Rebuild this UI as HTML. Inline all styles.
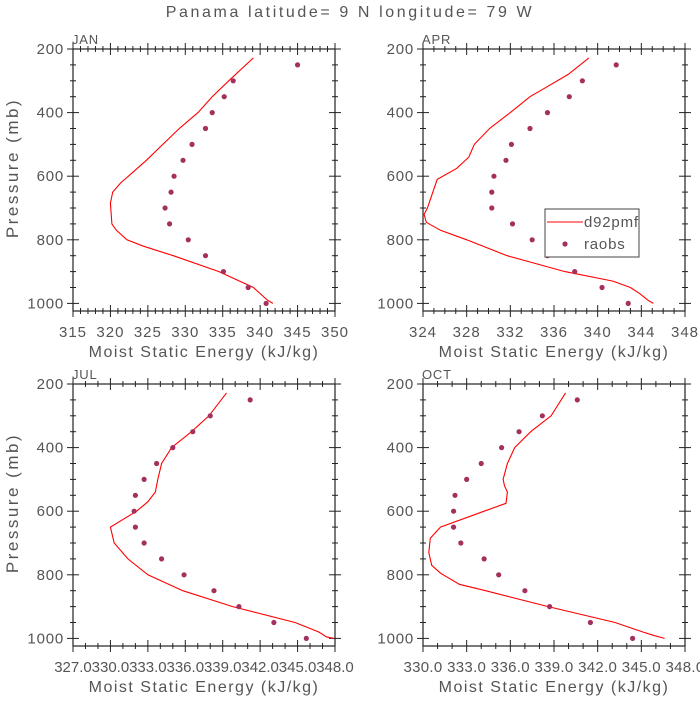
<!DOCTYPE html>
<html><head><meta charset="utf-8"><style>
html,body{margin:0;padding:0;background:#fff;}
svg text{font-family:"Liberation Sans",sans-serif;fill:#555;}
</style></head><body>
<svg id="fig" width="700" height="700" viewBox="0 0 700 700" xmlns="http://www.w3.org/2000/svg">
<text x="350" y="17" text-anchor="middle" font-size="16" letter-spacing="2.6">Panama  latitude= 9 N longitude= 79 W</text>
</svg>
<script>
const pressureLevels=[250,300,350,400,450,500,550,600,650,700,750,800,850,900,950,1000];
const janLineP=[228,300,350,400,450,500,550,600,620,650,685,750,770,800,820,850,900,950,980,990,1000];
const janLineV=[339.1,335.8,333.6,331.7,329.2,327.0,324.8,322.4,321.4,320.3,320.0,320.2,320.8,322.2,324.4,328.4,334.5,339.1,340.5,341.0,341.7];
const janDots=[345.0,336.4,335.2,333.6,332.7,330.9,329.7,328.5,328.1,327.3,327.9,330.4,332.7,335.1,338.4,340.8];
const aprLineP=[228,280,320,350,400,450,500,540,575,610,700,720,745,770,800,850,900,930,950,970,990,1000];
const aprLineV=[339.2,337.3,335.3,333.8,332.0,330.1,328.7,328.2,327.1,325.3,324.4,324.1,324.3,325.6,328.0,331.7,337.0,341.4,343.0,343.9,344.6,345.1];
const aprDots=[341.7,338.6,337.4,335.4,333.8,332.1,331.6,330.5,330.3,330.3,332.2,334.0,335.4,337.9,340.4,342.8];
const julLineP=[228,300,350,400,450,500,540,570,600,650,700,750,800,850,900,950,980,995,1000];
const julLineV=[339.3,337.9,336.5,334.9,334.1,333.8,333.6,333.0,332.1,330.0,330.3,331.4,333.0,335.8,339.8,344.8,346.7,347.3,347.9];
const julDots=[341.2,338.0,336.6,335.0,333.7,332.7,332.0,331.9,332.0,332.7,334.1,335.9,338.3,340.3,343.1,345.7];
const octLineP=[228,300,350,400,450,500,520,540,575,600,650,685,730,770,795,830,850,900,950,980,990,1000];
const octLineV=[339.8,338.8,337.4,336.3,335.8,335.5,335.6,335.8,335.7,334.2,331.2,330.5,330.4,330.6,331.2,332.5,334.3,338.6,343.2,345.1,345.8,346.6];
const octDots=[340.6,338.2,336.6,335.4,334.0,333.0,332.2,332.1,332.1,332.6,334.2,335.2,337.0,338.7,341.5,344.4];
const yTicks=[200,400,600,800,1000];

const NS="http://www.w3.org/2000/svg";
const svg=document.getElementById('fig');
function mk(tag,attrs,parent){const e=document.createElementNS(NS,tag);for(const k in attrs)e.setAttribute(k,attrs[k]);(parent||svg).appendChild(e);return e;}

function panel(cfg){
  const g=mk('g',{});
  
  
  const L=73,R=335,ox=cfg.ox,oy=cfg.oy;
  const x=v=>ox+L+(v-cfg.xmin)/(cfg.xmax-cfg.xmin)*(R-L);
  const y=p=>oy+49+(p-200)*0.318;
  const top=y(200),bot=oy+311;
  const frame=mk('rect',{x:ox+L,y:top,width:R-L,height:bot-top,fill:'none',stroke:'#222','stroke-width':1.2},g);
  
  
  for(let v=cfg.xmin;v<=cfg.xmax+1e-6;v+=cfg.minor){
    const major=Math.abs(((v-cfg.xmin)/cfg.major)-Math.round((v-cfg.xmin)/cfg.major))<1e-6;
    const len=major?6:3;
    mk('line',{x1:x(v),x2:x(v),y1:bot-len,y2:bot+len,stroke:'#222'},g);
    mk('line',{x1:x(v),x2:x(v),y1:top-len,y2:top+len,stroke:'#222'},g);
  }
  for(let i=0;i<cfg.xlabels.length;i++){
    const v=cfg.xmin+i*cfg.major;
    const t=mk('text',{x:x(v),y:oy+337,'text-anchor':'middle','font-size':cfg.lfs,'letter-spacing':cfg.ls},g);
    t.textContent=cfg.xlabels[i];
    
    
  }
  for(let p=200;p<=1000;p+=50){
    const major=p%200===0;const len=major?6:3;
    mk('line',{x1:ox+L-len,x2:ox+L+len,y1:y(p),y2:y(p),stroke:'#222'},g);
    mk('line',{x1:ox+R-len,x2:ox+R+len,y1:y(p),y2:y(p),stroke:'#222'},g);
  }
  yTicks.forEach(p=>{
    const t=mk('text',{x:ox+L-9,y:y(p)+5,'text-anchor':'end','font-size':15,'letter-spacing':0.8},g);
    t.textContent=p;
    
    
  });
  const xt=mk('text',{x:ox+204,y:oy+357,'text-anchor':'middle','font-size':16,'letter-spacing':1.5},g);
  xt.textContent='Moist Static Energy (kJ/kg)';
  
  
  if(cfg.ylab){
    const yt=mk('text',{x:0,y:0,'text-anchor':'middle','font-size':17,'letter-spacing':2.5,transform:`translate(${ox+18},${oy+168}) rotate(-90)`},g);
    yt.textContent='Pressure (mb)';
    
    
  }
  const mt=mk('text',{x:ox+L-1,y:oy+44,'font-size':13,'letter-spacing':0.8},g);
  mt.textContent=cfg.label;
  
  
  const pts=cfg.lp.map((p,i)=>x(cfg.lv[i]).toFixed(1)+','+y(p).toFixed(1)).join(' ');
  const line=mk('polyline',{points:pts,fill:'none',stroke:'#ff0000','stroke-width':1.1},g);
  
  
  cfg.dots.forEach((v,i)=>{
    const c=mk('circle',{cx:x(v),cy:y(pressureLevels[i]),r:2.6,fill:'#a3305e'},g);
    
    
  });
  return {x,y};
}
function range(a,b,s,f){const r=[];for(let v=a;v<=b+1e-6;v+=s)r.push(f(v));return r;}
panel({name:'jan',label:'JAN',ox:0,oy:0,xmin:315,xmax:350,major:5,minor:1,xlabels:range(315,350,5,v=>String(v)),lfs:15,ls:1,lp:janLineP,lv:janLineV,dots:janDots,ylab:true});
panel({name:'apr',label:'APR',ox:350,oy:0,xmin:324,xmax:348,major:4,minor:1,xlabels:range(324,348,4,v=>String(v)),lfs:15,ls:1,lp:aprLineP,lv:aprLineV,dots:aprDots,ylab:false});
panel({name:'jul',label:'JUL',ox:0,oy:335,xmin:327,xmax:348,major:3,minor:1,xlabels:range(327,348,3,v=>v.toFixed(1)),lfs:15,ls:0,lp:julLineP,lv:julLineV,dots:julDots,ylab:true});
panel({name:'oct',label:'OCT',ox:350,oy:335,xmin:330,xmax:348,major:3,minor:1,xlabels:range(330,348,3,v=>v.toFixed(1)),lfs:15,ls:0.3,lp:octLineP,lv:octLineV,dots:octDots,ylab:false});
const lg=mk('g',{});


mk('rect',{x:545,y:209,width:94,height:48,fill:'#fff',stroke:'#444','stroke-width':1},lg);
const ll=mk('line',{x1:547,x2:583,y1:222,y2:222,stroke:'#ff0000','stroke-width':1.1},lg);


const lt1=mk('text',{x:584,y:227,'font-size':15,'letter-spacing':0.8},lg);lt1.textContent='d92pmf';


const lc=mk('circle',{cx:565,cy:244,r:2.6,fill:'#a3305e'},lg);


const lt2=mk('text',{x:584,y:249,'font-size':15,'letter-spacing':0.8},lg);lt2.textContent='raobs';


</script>
</body></html>
